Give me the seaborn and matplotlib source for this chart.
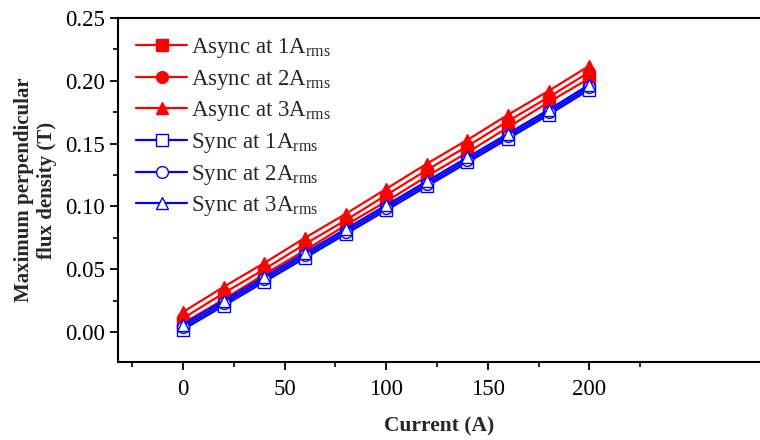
import numpy as np
import pandas as pd
import matplotlib
matplotlib.use("Agg")
import matplotlib.pyplot as plt
import seaborn as sns
from matplotlib.ticker import MultipleLocator, FixedLocator

current = [0, 20, 40, 60, 80, 100, 120, 140, 160, 180, 200]
async_1a = [0.007, 0.026, 0.046, 0.065, 0.085, 0.104, 0.124, 0.143, 0.163, 0.183, 0.202]
async_2a = [0.011, 0.031, 0.050, 0.070, 0.089, 0.109, 0.129, 0.148, 0.168, 0.187, 0.207]
async_3a = [0.016, 0.036, 0.055, 0.075, 0.094, 0.114, 0.134, 0.153, 0.173, 0.192, 0.212]
sync_1a = [0.002, 0.021, 0.040, 0.059, 0.078, 0.097, 0.116, 0.135, 0.154, 0.173, 0.193]
sync_2a = [0.004, 0.023, 0.042, 0.061, 0.080, 0.099, 0.118, 0.137, 0.156, 0.175, 0.195]
sync_3a = [0.006, 0.025, 0.044, 0.063, 0.082, 0.101, 0.120, 0.139, 0.158, 0.177, 0.197]

labels = [r"Async at 1A$_{\mathrm{rms}}$", r"Async at 2A$_{\mathrm{rms}}$", r"Async at 3A$_{\mathrm{rms}}$",
          r"Sync at 1A$_{\mathrm{rms}}$", r"Sync at 2A$_{\mathrm{rms}}$", r"Sync at 3A$_{\mathrm{rms}}$"]
series = [async_1a, async_2a, async_3a, sync_1a, sync_2a, sync_3a]
colors = ["#FF0000"] * 3 + ["#0000FF"] * 3
markers = ["s", "o", "^", "s", "o", "^"]
filled = [True] * 3 + [False] * 3

sns.set_theme(style="white")
plt.rcParams["font.family"] = ["Liberation Serif", "DejaVu Serif"]
plt.rcParams["mathtext.fontset"] = "custom"
plt.rcParams["mathtext.rm"] = "Liberation Serif"

fig = plt.figure(figsize=(7.6, 4.4), dpi=100)
ax = fig.add_axes([118 / 760, 78 / 440, 1.0 - 118 / 760, (362 - 18) / 440])

for lab, vals, c, m, f in zip(labels, series, colors, markers, filled):
    df = pd.DataFrame({"Current": current, "B": vals})
    sns.lineplot(data=df, x="Current", y="B", ax=ax, color=c, marker=m,
                 markersize=8.5, linewidth=1.6, label=lab,
                 markerfacecolor=(c if f else "white"), markeredgecolor=c,
                 markeredgewidth=1.0)

ax.set_xlim(-32, 284)
ax.set_ylim(-0.0238, 0.25)
ax.xaxis.set_major_locator(FixedLocator([0, 50, 100, 150, 200]))
ax.xaxis.set_minor_locator(FixedLocator([-25, 25, 75, 125, 175, 225]))
ax.yaxis.set_major_locator(MultipleLocator(0.05))
ax.yaxis.set_minor_locator(MultipleLocator(0.025))
ax.yaxis.set_major_formatter(matplotlib.ticker.FormatStrFormatter("%.2f"))

for s in ["left", "bottom", "top"]:
    ax.spines[s].set_visible(True)
    ax.spines[s].set_color("black")
    ax.spines[s].set_linewidth(1.5)
ax.spines["right"].set_visible(False)

ax.tick_params(axis="both", which="major", direction="out", length=6, width=1.3,
               labelsize=16.5, color="black", labelcolor="black", bottom=True, left=True, top=False)
ax.tick_params(axis="both", which="minor", direction="out", length=3.5, width=1.2,
               color="black", bottom=True, left=True, top=False)
ax.tick_params(axis="x", which="major", pad=6)

ax.set_xlabel("Current (A)", fontsize=15.5, fontweight="bold", labelpad=12)
ax.set_ylabel("Maximum perpendicular\nflux density (T)", fontsize=15, fontweight="bold", labelpad=6)

leg = ax.legend(loc="upper left", frameon=False, fontsize=16.5, handlelength=2.2,
                labelspacing=0.33, borderaxespad=0.35, handletextpad=0.2,
                borderpad=0.45)

fig.savefig("out.png", dpi=100)
